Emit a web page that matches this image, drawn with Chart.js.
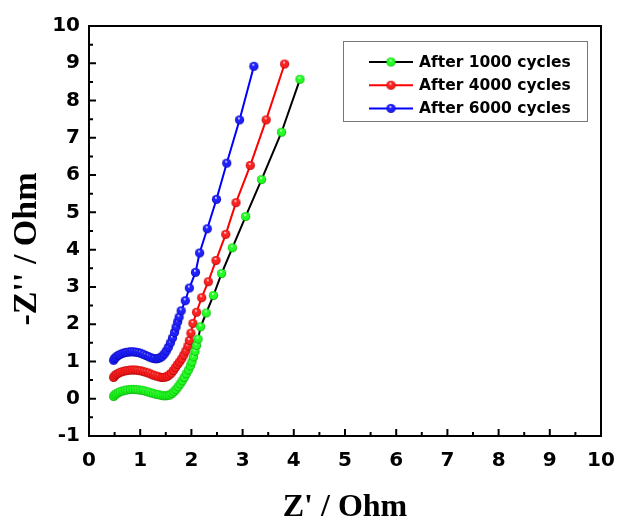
<!DOCTYPE html>
<html>
<head>
<meta charset="utf-8">
<style>
html,body{margin:0;padding:0;background:#ffffff;}
#wrap{width:617px;height:523px;position:relative;}
</style>
<script src="https://cdn.jsdelivr.net/npm/chart.js@4.4.0/dist/chart.umd.min.js"></script>
</head>
<body>
<div id="wrap"><canvas id="c" width="617" height="523"></canvas></div>
<script>
// ---- data ----
const seriesLabels = ['After 1000 cycles', 'After 4000 cycles', 'After 6000 cycles'];

const x1000 = [0.48,0.50,0.53,0.57,0.61,0.66,0.71,0.76,0.81,0.86,0.91,0.96,1.01,1.06,1.11,1.16,1.21,1.26,1.31,1.36,1.41,1.46,1.50,1.54,1.58,1.62,1.66,1.70,1.74,1.78,1.82,1.86,1.90,1.94,1.98,2.01,2.04,2.07,2.10,2.13,2.18,2.29,2.43,2.59,2.80,3.06,3.37,3.76,4.12];
const y1000 = [0.06,0.10,0.13,0.16,0.19,0.21,0.23,0.24,0.25,0.25,0.25,0.24,0.23,0.22,0.20,0.18,0.16,0.14,0.12,0.11,0.09,0.08,0.08,0.09,0.10,0.14,0.19,0.25,0.32,0.40,0.48,0.57,0.67,0.77,0.88,0.99,1.12,1.27,1.43,1.60,1.93,2.30,2.77,3.36,4.05,4.89,5.88,7.15,8.57];

const x4000 = [0.48,0.50,0.53,0.57,0.61,0.66,0.71,0.76,0.81,0.86,0.91,0.96,1.01,1.06,1.11,1.16,1.21,1.26,1.31,1.36,1.41,1.45,1.49,1.53,1.57,1.61,1.65,1.69,1.73,1.77,1.81,1.85,1.89,1.93,1.96,1.99,2.03,2.10,2.20,2.33,2.48,2.67,2.87,3.15,3.46,3.82];
const y4000 = [0.57,0.61,0.65,0.68,0.71,0.73,0.75,0.76,0.77,0.77,0.77,0.76,0.75,0.73,0.71,0.69,0.66,0.63,0.61,0.59,0.57,0.57,0.58,0.60,0.64,0.69,0.76,0.84,0.92,0.99,1.07,1.17,1.28,1.41,1.56,1.76,2.02,2.32,2.71,3.14,3.71,4.41,5.26,6.26,7.48,8.98];

const x6000 = [0.48,0.50,0.53,0.57,0.61,0.66,0.71,0.76,0.81,0.86,0.91,0.96,1.01,1.06,1.11,1.16,1.21,1.26,1.31,1.35,1.39,1.43,1.47,1.51,1.55,1.59,1.63,1.67,1.70,1.73,1.76,1.80,1.88,1.96,2.08,2.16,2.31,2.49,2.69,2.94,3.22];
const y6000 = [1.03,1.08,1.12,1.16,1.19,1.22,1.24,1.25,1.26,1.26,1.25,1.24,1.22,1.19,1.16,1.13,1.10,1.08,1.07,1.08,1.10,1.14,1.20,1.28,1.38,1.50,1.63,1.78,1.92,2.06,2.19,2.36,2.63,2.97,3.39,3.91,4.56,5.35,6.32,7.48,8.92];

const xTickValues = [0,1,2,3,4,5,6,7,8,9,10];
const yTickValues = [-1,0,1,2,3,4,5,6,7,8,9,10];
const xTitleText = "Z' / Ohm";
const yTitleText = "-Z'' / Ohm";

// ---- styling helpers ----
function sphere(base, dark, r) {
  const s = Math.ceil(r * 2) + 1;
  const c = document.createElement('canvas');
  c.width = s; c.height = s;
  const g = c.getContext('2d');
  const cx = s / 2, cy = s / 2;
  const grad = g.createRadialGradient(cx - r * 0.15, cy - r * 0.4, r * 0.05, cx, cy, r);
  grad.addColorStop(0, '#ffffff');
  grad.addColorStop(0.3, base);
  grad.addColorStop(0.75, base);
  grad.addColorStop(1, dark);
  g.fillStyle = grad;
  g.beginPath(); g.arc(cx, cy, r, 0, Math.PI * 2); g.fill();
  return c;
}
const pts = (xs, ys) => xs.map((x, i) => ({x: x, y: ys[i]}));

const greenBall = sphere('#22ff22', '#00a000', 4.6);
const redBall = sphere('#ff2020', '#a00000', 4.6);
const blueBall = sphere('#2020ff', '#0000a0', 4.6);

const TICK_FONT = {family: '"DejaVu Sans", Arial, sans-serif', size: 20, weight: 'bold'};

const framePlugin = {
  id: 'frameTicks',
  afterDraw(chart) {
    const ctx = chart.ctx, a = chart.chartArea;
    const xs = chart.scales.x, ys = chart.scales.y;
    ctx.save();
    ctx.strokeStyle = '#000'; ctx.lineWidth = 2;
    ctx.strokeRect(a.left, a.top, a.right - a.left, a.bottom - a.top);
    ctx.beginPath();
    for (let v = 0; v <= 10; v += 0.5) {
      const len = (v % 1 === 0) ? 7 : 4;
      const px = xs.getPixelForValue(v);
      ctx.moveTo(px, a.bottom); ctx.lineTo(px, a.bottom - len);
    }
    for (let v = -1; v <= 10; v += 0.5) {
      const len = (v % 1 === 0) ? 7 : 4;
      const py = ys.getPixelForValue(v);
      ctx.moveTo(a.left, py); ctx.lineTo(a.left + len, py);
    }
    ctx.stroke();

    // axis titles
    ctx.fillStyle = '#000';
    ctx.font = 'bold 32px "Liberation Serif", "Times New Roman", serif';
    ctx.textAlign = 'center'; ctx.textBaseline = 'middle';
    ctx.fillText(xTitleText, (a.left + a.right) / 2, 508);
    ctx.translate(27, 249);
    ctx.rotate(-Math.PI / 2);
    ctx.font = 'bold 34px "Liberation Serif", "Times New Roman", serif';
    ctx.fillText(yTitleText, 0, 0);
    ctx.restore();

    // legend
    ctx.save();
    const bx = 343, by = 41, bw = 244, bh = 80;
    ctx.fillStyle = '#fff';
    ctx.fillRect(bx, by, bw, bh);
    ctx.strokeStyle = '#777'; ctx.lineWidth = 1;
    ctx.strokeRect(bx + 0.5, by + 0.5, bw, bh);
    ctx.font = 'bold 15.5px "DejaVu Sans", Arial, sans-serif';
    ctx.textAlign = 'left'; ctx.textBaseline = 'middle';
    chart.data.datasets.forEach((ds, i) => {
      const cy = 62 + i * 23.2;
      ctx.strokeStyle = ds.borderColor; ctx.lineWidth = 2;
      ctx.beginPath(); ctx.moveTo(369, cy); ctx.lineTo(413, cy); ctx.stroke();
      const img = ds.pointStyle;
      ctx.drawImage(img, 391 - img.width / 2, cy - img.height / 2);
      ctx.fillStyle = '#000';
      ctx.fillText(ds.label, 419, cy + 1);
    });
    ctx.restore();
  }
};

new Chart(document.getElementById('c'), {
  type: 'scatter',
  data: {
    datasets: [
      {label: seriesLabels[0], data: pts(x1000, y1000), showLine: true, borderColor: '#000000', borderWidth: 2,
       pointStyle: greenBall, pointRadius: 4.6, backgroundColor: '#00ff00'},
      {label: seriesLabels[1], data: pts(x4000, y4000), showLine: true, borderColor: '#ff0000', borderWidth: 2,
       pointStyle: redBall, pointRadius: 4.6, backgroundColor: '#ff0000'},
      {label: seriesLabels[2], data: pts(x6000, y6000), showLine: true, borderColor: '#0000ff', borderWidth: 2,
       pointStyle: blueBall, pointRadius: 4.6, backgroundColor: '#0000ff'}
    ]
  },
  options: {
    responsive: false,
    animation: false,
    devicePixelRatio: 1,
    layout: {padding: {top: 26, right: 16, left: 0, bottom: 0}},
    plugins: {legend: {display: false}, tooltip: {enabled: false}},
    scales: {
      x: {
        type: 'linear', min: 0, max: 10,
        afterBuildTicks: s => { s.ticks = xTickValues.map(v => ({value: v})); },
        afterFit: s => { s.height = 87; s.paddingLeft = 0; s.paddingRight = 0; },
        grid: {display: false, drawTicks: false},
        border: {display: false},
        ticks: {font: TICK_FONT, color: '#000', padding: 13, maxRotation: 0, autoSkip: false}
      },
      y: {
        type: 'linear', min: -1, max: 10,
        afterBuildTicks: s => { s.ticks = yTickValues.map(v => ({value: v})); },
        afterFit: s => { s.width = 89; s.paddingTop = 0; s.paddingBottom = 0; },
        grid: {display: false, drawTicks: false},
        border: {display: false},
        ticks: {font: TICK_FONT, color: '#000', padding: 9, autoSkip: false}
      }
    }
  },
  plugins: [framePlugin]
});
</script>
</body>
</html>
